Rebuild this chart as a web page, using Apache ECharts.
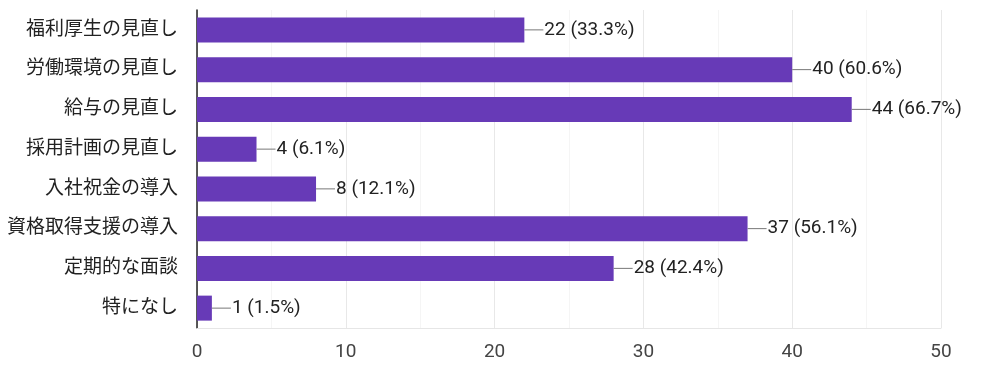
<!DOCTYPE html>
<html><head><meta charset="utf-8">
<script src="https://cdn.jsdelivr.net/npm/echarts@6/dist/echarts.min.js"></script>
<style>html,body{margin:0;padding:0;background:#fff}#c{width:1000px;height:371px}</style>
</head><body><div id="c"></div>
<script>
const categories = ['福利厚生の見直し','労働環境の見直し','給与の見直し','採用計画の見直し','入社祝金の導入','資格取得支援の導入','定期的な面談','特になし'];
const counts = [22, 40, 44, 4, 8, 37, 28, 1];
const totalRespondents = 66;
const xTicks = [0, 10, 20, 30, 40, 50];

const FONT = "Roboto, 'Noto Sans CJK JP', sans-serif";
const chart = echarts.init(document.getElementById('c'));
chart.setOption({
  animation: false,
  grid: { left: 197, right: 59, top: 10, bottom: 43 },
  xAxis: {
    type: 'value', min: xTicks[0], max: xTicks[xTicks.length-1], interval: 10,
    axisLine: { show: true, lineStyle: { color: '#e6e6e6' } },
    axisTick: { show: false },
    axisLabel: { color: '#444', fontSize: 19, fontFamily: FONT, margin: 15 },
    splitLine: { show: true, lineStyle: { color: '#e8e8e8' } },
    minorTick: { show: false, splitNumber: 2 },
    minorSplitLine: { show: true, lineStyle: { color: '#f5f5f5' } }
  },
  yAxis: {
    type: 'category', data: categories, inverse: true,
    axisLine: { show: true, lineStyle: { color: '#222', width: 1.5 } },
    axisTick: { show: false },
    axisLabel: { color: '#222', fontSize: 19, fontFamily: FONT, margin: 19 }
  },
  series: [{
    type: 'bar',
    data: counts,
    barWidth: 25,
    itemStyle: { color: '#673ab7' },
    label: {
      show: true, position: 'right', distance: 0,
      formatter: p => '{ln| }{t|' + p.value + ' (' + (p.value / totalRespondents * 100).toFixed(1) + '%)}',
      rich: {
        ln: { width: 19, height: 1, backgroundColor: '#777' },
        t: { color: '#222', fontSize: 19, fontFamily: FONT, padding: [0, 0, 0, 1] }
      }
    }
  }]
});
</script></body></html>
